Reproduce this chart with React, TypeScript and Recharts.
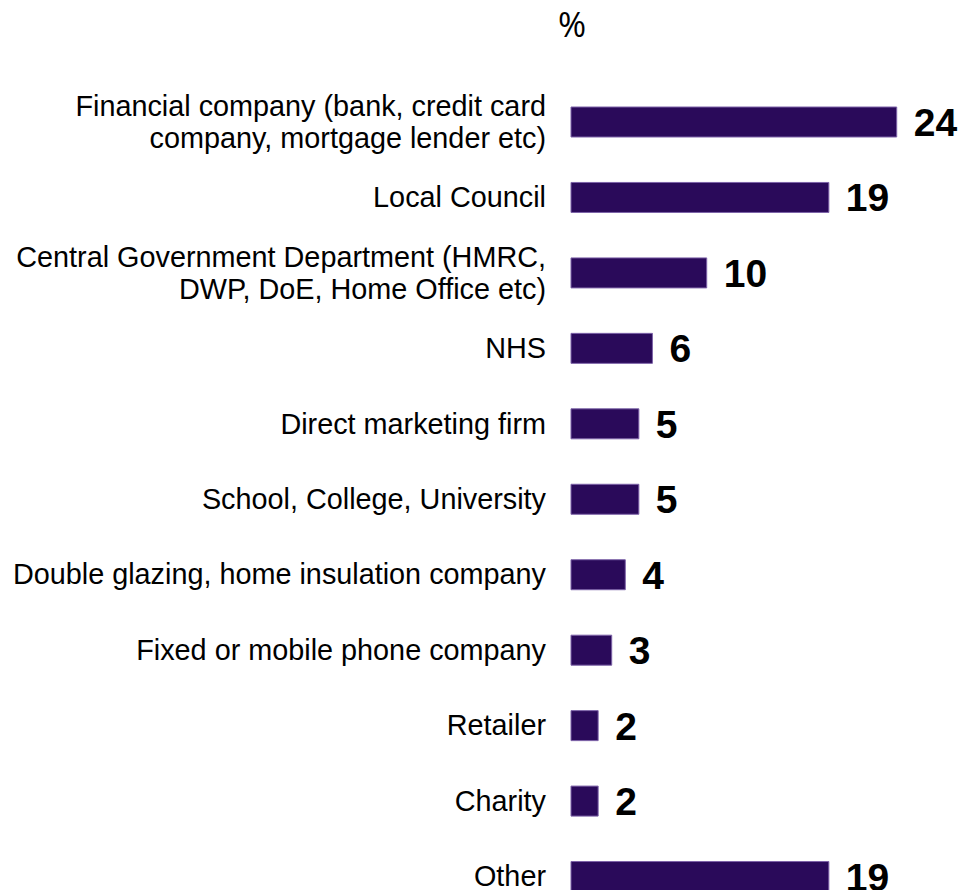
import React from "react";
import { BarChart, Bar, XAxis, YAxis, LabelList } from "recharts";

const categories: string[] = [
  "Financial company (bank, credit card\ncompany, mortgage lender etc)",
  "Local Council",
  "Central Government Department (HMRC,\nDWP, DoE, Home Office etc)",
  "NHS",
  "Direct marketing firm",
  "School, College, University",
  "Double glazing, home insulation company",
  "Fixed or mobile phone company",
  "Retailer",
  "Charity",
  "Other",
];
const values: number[] = [24, 19, 10, 6, 5, 5, 4, 3, 2, 2, 19];
const unitLabel = "%";

const data = categories.map((c, i) => ({ name: c, value: values[i] }));

const FONT = "'Liberation Sans', Arial, sans-serif";

const CategoryTick = (props: any) => {
  const { x, y, payload } = props;
  const lines: string[] = String(payload.value).split("\n");
  const lh = 32;
  const start = -((lines.length - 1) * lh) / 2;
  return (
    <g>
      {lines.map((ln, i) => (
        <text
          key={i}
          x={x - 17}
          y={y + start + i * lh + 10}
          textAnchor="end"
          fontFamily={FONT}
          fontSize={28.8}
          fill="#000"
        >
          {ln}
        </text>
      ))}
    </g>
  );
};

const ValueLabel = (props: any) => {
  const { x, y, width, height, value } = props;
  return (
    <text
      x={x + width + 17}
      y={y + height / 2 + 14}
      fontFamily={FONT}
      fontSize={39}
      fontWeight="bold"
      fill="#000"
    >
      {value}
    </text>
  );
};

export default function App() {
  return (
    <div
      style={{
        position: "absolute",
        top: 0,
        left: 0,
        width: 961,
        height: 890,
        overflow: "hidden",
        background: "#fff",
      }}
    >
      <div
        style={{
          position: "absolute",
          left: 546,
          top: 4,
          width: 52,
          textAlign: "center",
          fontFamily: "'Open Sans', 'Liberation Sans', sans-serif",
          fontSize: 34,
          lineHeight: "40px",
          color: "#000",
        }}
      >
        {unitLabel}
      </div>
      <BarChart
        width={961}
        height={920}
        data={data}
        layout="vertical"
        margin={{ top: 84, right: 10, bottom: 6, left: 0 }}
        barCategoryGap={0}
      >
        <XAxis type="number" domain={[0, 28]} hide />
        <YAxis
          type="category"
          dataKey="name"
          width={571}
          axisLine={false}
          tickLine={false}
          interval={0}
          tick={<CategoryTick />}
        />
        <Bar
          dataKey="value"
          fill="#2a0a5a"
          stroke="#7d63a8"
          strokeWidth={1}
          barSize={30}
          isAnimationActive={false}
        >
          <LabelList dataKey="value" content={<ValueLabel />} />
        </Bar>
      </BarChart>
    </div>
  );
}
